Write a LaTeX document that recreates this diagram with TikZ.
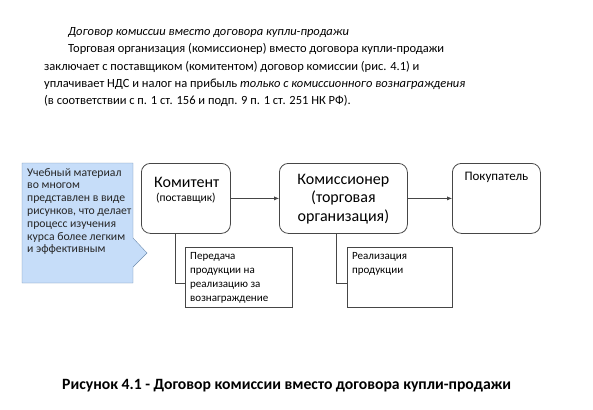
\documentclass[tikz,border=0pt]{standalone}
\usepackage{fontspec}
\setmainfont{Carlito}
\usetikzlibrary{arrows.meta,positioning,calc}
\definecolor{callfill}{RGB}{198,221,249}
\definecolor{callline}{RGB}{110,140,175}
\definecolor{boxline}{RGB}{70,70,70}

\begin{document}
\begin{tikzpicture}[x=1pt,y=-1pt,
  party/.style={draw=boxline,thick,rounded corners=9pt,anchor=north west,inner sep=0},
  notebox/.style={draw=boxline,anchor=north west,inner sep=0},
  para/.style={anchor=base west,inner sep=0,font=\fontsize{12.5}{15}\selectfont},
  small/.style={anchor=north west,inner sep=0,align=left,font=\fontsize{11}{14}\selectfont},
  link/.style={draw=boxline,-{Latex[length=5pt,width=4pt]}}]
\useasboundingbox (0,0) rectangle (593,409);
% text above the picture
\node[para,font=\fontsize{12.5}{15}\itshape] (t1) at (68,36) {Договор комиссии вместо договора купли-продажи};
\node[para] (t2) at (68,53) {Торговая организация (комиссионер) вместо договора купли-продажи};
\node[para] (t3) at (44,71) {заключает с поставщиком (комитентом) договор комиссии (рис. 4.1) и};
\node[para] (t4) at (44,88) {уплачивает НДС и налог на прибыль \textit{только с комиссионного вознаграждения}};
\node[para] (t5) at (44,104) {(в соответствии с п. 1 ст. 156 и подп. 9 п. 1 ст. 251 НК РФ).};
% callout
\fill[callfill,draw=callline] (22,163) -- (133,163) -- (133,238) -- (147,253) -- (133,267)
  -- (133,283) -- (22,283) -- cycle;
\node[small,font=\fontsize{11.7}{12.8}\selectfont,text=black!85] (note) at (27,168)
  {Учебный материал\\во многом\\представлен в виде\\рисунков, что делает\\процесс изучения\\курса более легким\\и эффективным};
% boxes
\node[party,minimum width=89pt,minimum height=70pt] (komitent) at (141,163) {};
\node[party,minimum width=128pt,minimum height=70pt] (komis) at (279,163) {};
\node[party,minimum width=88pt,minimum height=70pt] (pokup) at (452,163) {};
\node[anchor=base west,inner sep=0,font=\fontsize{16}{19}\selectfont] (komitentT)
  at ($(komitent.north west)+(13,24)$) {Комитент};
\node[anchor=base west,inner sep=0,font=\fontsize{11.5}{14}\selectfont] (komitentS)
  at ($(komitent.north west)+(15,38)$) {(поставщик)};
\node[anchor=north,inner sep=0,align=center,font=\fontsize{16}{18.5}\selectfont] (komisT)
  at ($(komis.north)+(0,11)$) {Комиссионер\\(торговая\\организация)};
\node[anchor=north,inner sep=0,font=\fontsize{13}{15}\selectfont] (pokupT)
  at ($(pokup.north)+(0,9)$) {Покупатель};
\node[notebox,minimum width=107pt,minimum height=60pt] (peredacha) at (185,247) {};
\node[notebox,minimum width=105pt,minimum height=60pt] (realiz) at (347,247) {};
\node[small] (peredachaT) at ($(peredacha.north west)+(5,5)$)
  {Передача\\продукции на\\реализацию за\\вознаграждение};
\node[small] (realizT) at ($(realiz.north west)+(5,5)$) {Реализация\\продукции};
% connectors
\draw[link] (komitent.east) -- (komis.west);
\draw[link] (komis.east) -- (pokup.west);
\draw[draw=boxline] ($(komitent.south west)+(34,0)$) |- ($(peredacha.north west)+(0,36)$);
\draw[draw=boxline] ($(komis.south west)+(57,0)$) |- ($(realiz.north west)+(0,36)$);
% caption
\node[anchor=base west,inner sep=0,font=\fontsize{15.7}{18}\bfseries] (caption) at (62,389)
  {Рисунок 4.1 - Договор комиссии вместо договора купли-продажи};
\end{tikzpicture}
\end{document}
